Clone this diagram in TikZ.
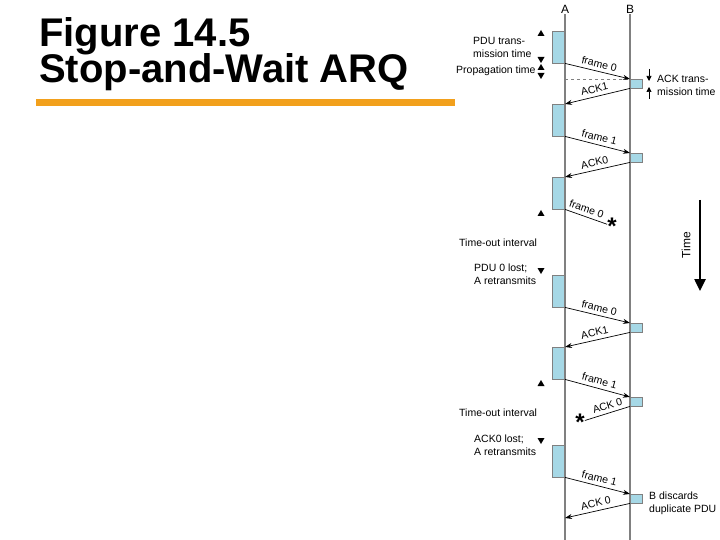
\documentclass[tikz,border=0pt]{standalone}
\usepackage{fontspec}
\setmainfont{Liberation Sans}
\usetikzlibrary{arrows.meta,positioning}
\definecolor{ltblue}{RGB}{166,216,230}
\definecolor{barorange}{RGB}{242,160,28}
\definecolor{lifegray}{RGB}{128,128,128}
\tikzset{
  pdu/.style={draw=lifegray, fill=ltblue, inner sep=0pt, minimum width=13pt, minimum height=32pt, anchor=north east},
  ackbox/.style={draw=lifegray, fill=ltblue, inner sep=0pt, minimum width=12pt, minimum height=9pt, anchor=north west},
  msg/.style={-{Stealth[length=7pt,width=5pt]}, line width=0.7pt},
  note/.style={font=\fontsize{10.5}{13}\selectfont, inner sep=0pt, align=left, anchor=west},
  tag/.style={font=\fontsize{10.5}{13}\selectfont, sloped, above, inner sep=3.5pt},
  lost/.style={font=\bfseries\fontsize{24}{24}\selectfont, inner sep=0pt}
}

\begin{document}
\begin{tikzpicture}[x=1pt, y=-1pt]
\useasboundingbox (0,0) rectangle (720,540);

% title
\node[font=\bfseries\fontsize{40}{40}\selectfont, anchor=base west, inner sep=0pt] (title1) at (39,47) {Figure 14.5};
\node[font=\bfseries\fontsize{40}{40}\selectfont, anchor=base west, inner sep=0pt] (title2) at (39,83) {Stop-and-Wait ARQ};
\fill[barorange] (36,99) rectangle (455,106);

% the two stations
\node[font=\fontsize{12}{12}\selectfont, inner sep=1pt] (labA) at (565,9) {A};
\node[font=\fontsize{12}{12}\selectfont, inner sep=1pt] (labB) at (630,9) {B};
\coordinate (Aend) at (565,540);
\coordinate (Bend) at (630,540);

% transmissions at A
\node[pdu] (a1) at (565,31) {};
\node[pdu] (a2) at (565,104) {};
\node[pdu] (a3) at (565,177) {};
\node[pdu] (a4) at (565,275) {};
\node[pdu] (a5) at (565,347) {};
\node[pdu] (a6) at (565,445) {};

% acknowledgements at B
\node[ackbox] (b1) at (630,79) {};
\node[ackbox] (b2) at (630,153) {};
\node[ackbox] (b3) at (630,323) {};
\node[ackbox] (b4) at (630,397) {};
\node[ackbox] (b5) at (630,494) {};

\draw[lifegray, line width=2pt] (labA) -- (Aend);
\draw[lifegray, line width=2pt] (labB) -- (Bend);

\draw[lifegray, dashed, line width=0.8pt] (a1.east |- b1.north west) -- (b1.north west);

% frames and ACKs
\draw[msg] (a1.south east) -- (b1.north west) node[tag, pos=0.5] {frame 0};
\draw[msg] (b1.south west) -- (a2.north east) node[tag, pos=0.52] {ACK1};
\draw[msg] (a2.south east) -- (b2.north west) node[tag, pos=0.5] {frame 1};
\draw[msg] (b2.south west) -- (a3.north east) node[tag, pos=0.52] {ACK0};

\node[lost] (x1) at (612,226) {*};
\draw[line width=0.7pt] (a3.south east) -- (x1) node[tag, pos=0.45] {frame 0};

\draw[msg] (a4.south east) -- (b3.north west) node[tag, pos=0.5] {frame 0};
\draw[msg] (b3.south west) -- (a5.north east) node[tag, pos=0.52] {ACK1};
\draw[msg] (a5.south east) -- (b4.north west) node[tag, pos=0.5] {frame 1};

\node[lost] (x2) at (580,422) {*};
\draw[line width=0.7pt] (b4.south west) -- (x2) node[tag, pos=0.45] {ACK 0};

\draw[msg] (a6.south east) -- (b5.north west) node[tag, pos=0.5] {frame 1};
\coordinate (a7) at (565,518);
\draw[msg] (b5.south west) -- (a7) node[tag, pos=0.5] {ACK 0};

% timing notes
\node[note] (pdutime) at (473,47) {PDU trans-\\mission time};
\node[note] (proptime) at (456,71) {Propagation time};
\node[note] (acktime) at (657,85) {ACK trans-\\mission time};
\node[note] (tout1) at (459,243) {Time-out interval};
\node[note] (lost1) at (474,274) {PDU 0 lost;\\A retransmits};
\node[note] (tout2) at (459,413) {Time-out interval};
\node[note] (lost2) at (474,445) {ACK0 lost;\\A retransmits};
\node[note] (discard) at (649,503) {B discards\\duplicate PDU};

\foreach \y in {30,64,210,380}
  \fill (541,\y) -- ++(-3.5,6) -- ++(7,0) -- cycle;
\foreach \y in {63,79,274,444}
  \fill (541,\y) -- ++(-3.5,-6) -- ++(7,0) -- cycle;
\draw[line width=0.6pt] (538,57) -- (544,57);
\draw[line width=0.6pt] (538,73) -- (544,73);

\coordinate (ak1) at (649,69);
\coordinate (ak2) at (649,81);
\coordinate (ak3) at (649,99);
\coordinate (ak4) at (649,87);
\draw[-{Triangle[length=5pt,width=5pt]}, line width=0.7pt] (ak1) -- (ak2);
\draw[-{Triangle[length=5pt,width=5pt]}, line width=0.7pt] (ak3) -- (ak4);

% time axis
\coordinate (ttop) at (700,200);
\coordinate (tbot) at (700,291);
\draw[-{Triangle[length=12pt,width=11pt]}, line width=2.5pt] (ttop) -- (tbot);
\node[font=\fontsize{12}{12}\selectfont, rotate=90] (timelbl) at (686,245) {Time};

\end{tikzpicture}
\end{document}
